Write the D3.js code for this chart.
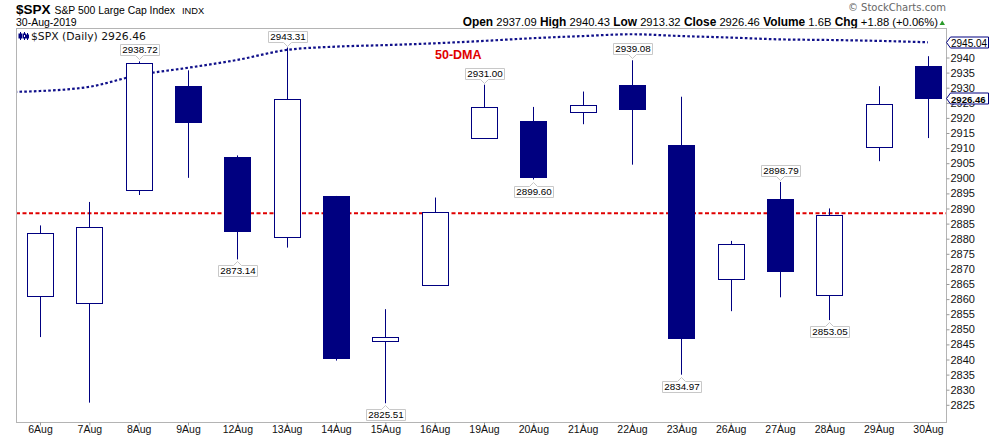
<!DOCTYPE html>
<html><head><meta charset="utf-8">
<script src="https://cdn.jsdelivr.net/npm/d3@7"></script>
<style>body{margin:0;background:#fff}svg{display:block}</style>
</head><body><svg id="c" width="990" height="438"></svg>
<script>
// ---- data ----
const dates = ["6Aug","7Aug","8Aug","9Aug","12Aug","13Aug","14Aug","15Aug","16Aug","19Aug","20Aug","21Aug","22Aug","23Aug","26Aug","27Aug","28Aug","29Aug","30Aug"];
const openV  = [2861.18,2858.65,2896.21,2930.51,2907.07,2880.72,2894.15,2846.20,2864.74,2913.48,2919.01,2922.04,2930.94,2911.07,2866.70,2893.14,2861.28,2910.37,2937.09];
const highV  = [2884.40,2892.17,2938.72,2935.75,2907.58,2943.31,2894.15,2856.67,2893.63,2931.00,2923.63,2928.73,2939.08,2927.01,2879.27,2898.79,2890.03,2930.50,2940.43];
const lowV   = [2847.42,2825.71,2894.47,2900.15,2873.14,2877.05,2839.64,2825.51,2864.74,2913.48,2899.60,2917.91,2904.51,2834.97,2856.00,2860.59,2853.05,2905.67,2913.32];
const closeV = [2881.77,2883.98,2938.09,2918.65,2882.70,2926.32,2840.60,2847.60,2888.68,2923.65,2900.51,2924.43,2922.95,2847.11,2878.38,2869.16,2887.94,2924.58,2926.46];
// 50-day moving average; first value belongs to the session before 6Aug
const dmaDates = ["5Aug"].concat(dates);
const dmaV = [2928.5,2928.9,2930.3,2934.2,2936.6,2939.2,2942.5,2943.6,2944.1,2944.7,2945.5,2946.4,2947.1,2947.7,2947.1,2946.6,2946.0,2945.8,2945.5,2945.04];
const supportLevel = 2888.4;
const highLabelDates = ["8Aug","13Aug","19Aug","22Aug","27Aug"];
const lowLabelDates  = ["12Aug","15Aug","20Aug","23Aug","28Aug"];
const yTicks = [2825,2830,2835,2840,2845,2850,2855,2860,2865,2870,2875,2880,2885,2890,2895,2900,2905,2910,2915,2920,2925,2930,2935,2940];
const headerItems = [["Open","2937.09"],["High","2940.43"],["Low","2913.32"],["Close","2926.46"],["Volume","1.6B"],["Chg","+1.88 (+0.06%)"]];

// ---- drawing ----
const NAVY = "#000080";
const svg = d3.select("#c");
const P = {l:16, r:946, t:28, b:422};
const x = d3.scaleLinear().domain([0, dates.length-1]).range([40, 928]);
const y = d3.scaleLinear().domain([2825, 2945]).range([404.8, 42.4]);
const FONT = "'Liberation Sans', Arial, sans-serif";

svg.append("rect").attr("width",990).attr("height",438).attr("fill","#fff");

// header
svg.append("text").attr("x",16).attr("y",14).attr("font-family",FONT).attr("font-size",13.5).attr("font-weight","bold").text("$SPX");
svg.append("text").attr("x",54.5).attr("y",13.5).attr("font-family",FONT).attr("font-size",10.4).text("S&P 500 Large Cap Index");
svg.append("text").attr("x",182).attr("y",13.5).attr("font-family",FONT).attr("font-size",9.3).text("INDX");
svg.append("text").attr("x",16).attr("y",26).attr("font-family",FONT).attr("font-size",10.5).text("30-Aug-2019");
svg.append("text").attr("x",946).attr("y",11).attr("text-anchor","end").attr("font-family","'DejaVu Sans', sans-serif").attr("font-size",10).attr("fill","#666").text("\u00A9 StockCharts.com");
const ht = svg.append("text").attr("x",938).attr("y",26).attr("text-anchor","end").attr("font-family",FONT).attr("font-size",11.2);
headerItems.forEach((d,i)=>{
  ht.append("tspan").attr("font-weight","bold").attr("font-size",11.9).text((i?"  ":"")+d[0]);
  ht.append("tspan").text(" "+d[1]);
});
svg.append("path").attr("d","M939.5,25 L945,25 L942.25,20.5 Z").attr("fill","#2a9a2a");

// plot frame
svg.append("rect").attr("x",P.l+0.5).attr("y",P.t+0.5).attr("width",P.r-P.l).attr("height",P.b-P.t)
  .attr("fill","#fff").attr("stroke","#b4b4b4");

svg.append("defs").append("clipPath").attr("id","clip").append("rect")
  .attr("x",P.l+1).attr("y",P.t+1).attr("width",P.r-P.l-1).attr("height",P.b-P.t-1);

// right axis
const ya = svg.append("g").attr("transform",`translate(${P.r+0.5},0)`)
  .call(d3.axisRight(y).tickValues(yTicks).tickSize(3).tickPadding(1).tickFormat(d3.format("d")));
ya.select(".domain").remove();
ya.selectAll("line").attr("stroke","#999");
ya.selectAll("text").attr("font-family",FONT).attr("font-size",11).attr("fill","#111");

// bottom axis
const xa = svg.append("g").attr("transform",`translate(0,${P.b+0.5})`)
  .call(d3.axisBottom(x).tickValues(d3.range(dates.length)).tickSize(3).tickPadding(0).tickFormat(i=>dates[i]));
xa.select(".domain").remove();
xa.selectAll("line").attr("stroke","#999");
xa.selectAll("text").attr("font-family",FONT).attr("font-size",10.5).attr("fill","#111");

const g = svg.append("g").attr("clip-path","url(#clip)");

// support line
g.append("line").attr("x1",P.l).attr("x2",P.r).attr("y1",y(supportLevel)).attr("y2",y(supportLevel))
  .attr("stroke","#e00000").attr("stroke-width",2).attr("stroke-dasharray","4,2.5");

// 50-DMA
const dmaLine = d3.line().x((d,i)=>x(i-1)).y(d=>y(d)).curve(d3.curveMonotoneX);
g.append("path").attr("d",dmaLine(dmaV)).attr("fill","none").attr("stroke","#10108a")
  .attr("stroke-width",2.2).attr("stroke-dasharray","2.6,2.2");

// candles
const idx = d3.range(dates.length);
const cx = i => Math.round(x(i));
g.selectAll(".wick").data(idx).join("line")
  .attr("x1",i=>cx(i)+0.5).attr("x2",i=>cx(i)+0.5)
  .attr("y1",i=>y(highV[i])).attr("y2",i=>y(lowV[i]))
  .attr("stroke",NAVY).attr("stroke-width",1);
const BW = 26;
g.selectAll(".body").data(idx).join("rect")
  .attr("x",i=>cx(i)-BW/2+0.5)
  .attr("y",i=>Math.round(y(Math.max(openV[i],closeV[i])))+0.5)
  .attr("width",BW)
  .attr("height",i=>Math.max(1,Math.round(y(Math.min(openV[i],closeV[i])))-Math.round(y(Math.max(openV[i],closeV[i])))))
  .attr("fill",i=>closeV[i]>=openV[i]?"#fff":NAVY)
  .attr("stroke",NAVY).attr("stroke-width",1);

// legend
svg.append("text").attr("x",31).attr("y",40).attr("font-family","'DejaVu Sans', sans-serif").attr("font-size",10.8).attr("fill","#111").text("$SPX (Daily) 2926.46");
const lg = svg.append("g").attr("stroke",NAVY).attr("fill",NAVY);
lg.append("line").attr("x1",20.5).attr("x2",20.5).attr("y1",32).attr("y2",40);
lg.append("rect").attr("x",19).attr("y",34).attr("width",3).attr("height",4);
lg.append("line").attr("x1",24.5).attr("x2",24.5).attr("y1",32).attr("y2",40);
lg.append("rect").attr("x",23.5).attr("y",34).attr("width",2).attr("height",4).attr("fill","#fff");
lg.append("line").attr("x1",27.5).attr("x2",27.5).attr("y1",33).attr("y2",40);
lg.append("rect").attr("x",26.5).attr("y",35).attr("width",2).attr("height",3);

// 50-DMA label
svg.append("text").attr("x",435).attr("y",58.5).attr("font-family",FONT).attr("font-size",12.5)
  .attr("font-weight","bold").attr("fill","#e00000").text("50-DMA");

// value call-outs
function callout(i, val, above){
  const px = cx(i)+0.5, py = y(val);
  const t = svg.append("text").attr("font-family",FONT).attr("font-size",9.8).attr("fill","#000")
    .attr("text-anchor","middle").text(d3.format(".2f")(val));
  const w = t.node().getComputedTextLength()+4, h = 11, gap = 6;
  const L = Math.round(px - w/2)+0.5, R = L + Math.round(w);
  let d;
  if (above){
    const B = Math.round(py - gap)+0.5, T = B - h;
    d = `M${L},${T}H${R}V${B}H${px+4}L${px},${B+4}L${px-4},${B}H${L}Z`;
    t.attr("x",(L+R)/2).attr("y",B-2.5);
  } else {
    const T = Math.round(py + gap)+0.5, B = T + h;
    d = `M${L},${T}H${px-4}L${px},${T-4}L${px+4},${T}H${R}V${B}H${L}Z`;
    t.attr("x",(L+R)/2).attr("y",B-2.5);
  }
  svg.insert("path", () => t.node()).attr("d",d).attr("fill","#fff").attr("stroke","#c8c8c8");
}
highLabelDates.forEach(dt=>{const i=dates.indexOf(dt); callout(i, highV[i], true);});
lowLabelDates.forEach(dt=>{const i=dates.indexOf(dt); callout(i, lowV[i], false);});

// right-side value tags
function tag(val, bold){
  const py = Math.round(y(val));
  const T = py-5.5+0.5, B = py+5.5+0.5, L = P.r+0.5, R = 988.5;
  svg.append("path").attr("d",`M${L},${py+0.5}L${L+4},${T}H${R}V${B}H${L+4}Z`)
    .attr("fill","#fff").attr("stroke",NAVY);
  svg.append("text").attr("x",L+4.5).attr("y",py+4.5).attr("font-family",FONT)
    .attr("font-size",bold?9.6:10).attr("font-weight",bold?"bold":"normal").attr("fill","#000")
    .text(d3.format(".2f")(val));
}
tag(dmaV[dmaV.length-1], false);
tag(closeV[closeV.length-1], true);
</script></body></html>
